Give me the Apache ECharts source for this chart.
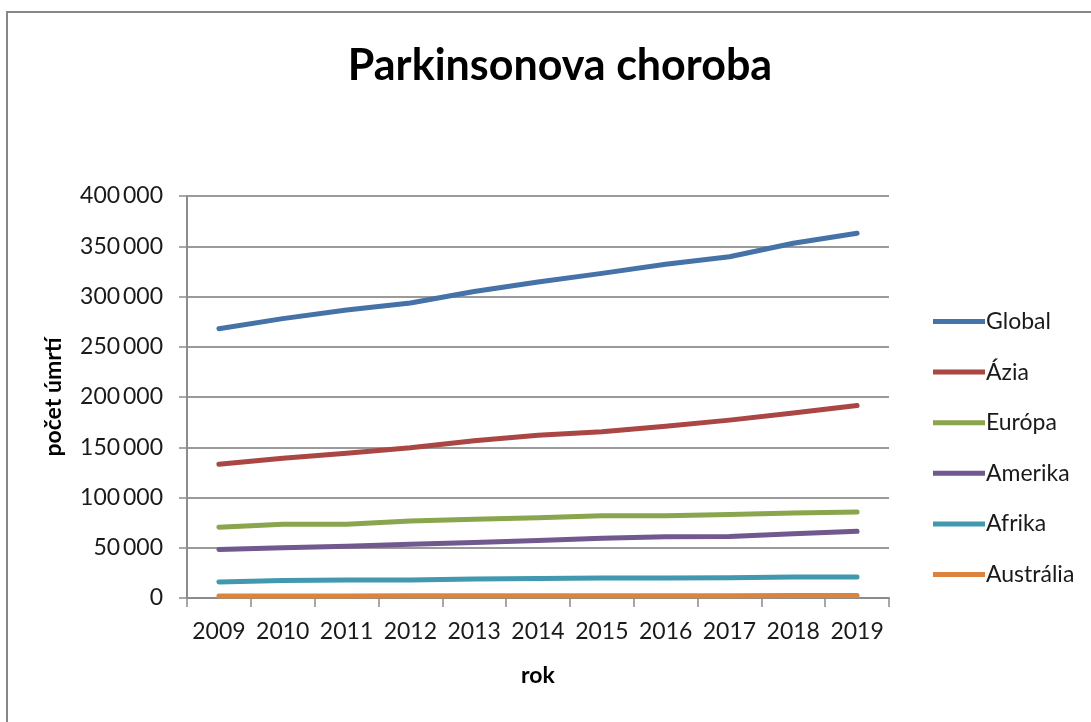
<!DOCTYPE html>
<html>
<head>
<meta charset="utf-8">
<script src="https://cdn.jsdelivr.net/npm/echarts@6/dist/echarts.min.js"></script>
<style>
html,body{margin:0;padding:0;background:#fff;}
#chart{width:1091px;height:722px;}
</style>
</head>
<body>
<div id="chart"></div>
<script>
const years = ['2009','2010','2011','2012','2013','2014','2015','2016','2017','2018','2019'];
const seriesNames = ['Global','Ázia','Európa','Amerika','Afrika','Austrália'];
const globalVals   = [268000,278000,286500,293500,305000,314500,323000,332000,339500,353000,363000];
const aziaVals     = [133000,139000,144000,149500,156500,162000,165500,171000,177000,184000,191500];
const europaVals   = [70500,73300,73300,76500,78300,79800,81800,81800,83200,84600,85600];
const amerikaVals  = [48300,50000,51600,53600,55300,57300,59500,61000,61200,64000,66300];
const afrikaVals   = [15900,17500,17800,18000,18800,19400,19800,20000,20100,20900,21000];
const australiaVals= [2000,2100,2100,2200,2200,2200,2300,2300,2300,2400,2400];
const yTicks = {min:0, max:400000, interval:50000};
const colors = ['#4572A7','#AA4643','#89A54E','#71588F','#4198AF','#DB843D'];

const allVals = [globalVals, aziaVals, europaVals, amerikaVals, afrikaVals, australiaVals];
const FONT = 'Lato, "Open Sans", sans-serif';

function fmt(v){
  return String(v).replace(/\B(?=(\d{3})+(?!\d))/g, '\u2009');
}

const chart = echarts.init(document.getElementById('chart'), null, {renderer:'canvas'});
chart.setOption({
  backgroundColor:'#fff',
  animation:false,
  color: colors,
  graphic:[{
    type:'rect', silent:true, z:-10,
    shape:{x:7, y:12, width:1300, height:1000},
    style:{fill:'none', stroke:'#878787', lineWidth:2}
  }],
  title:{
    text:'Parkinsonova choroba',
    left:555, top:40, textAlign:'center',
    textStyle:{fontFamily:FONT, fontSize:43, fontWeight:'bold', color:'#000'}
  },
  legend:{
    orient:'vertical',
    left:928, top:305,
    itemWidth:52, itemHeight:24, itemGap:27.6,
    icon:'path://M0,0 L52,0 L52,5 L0,5 Z',
    textStyle:{fontFamily:FONT, fontSize:23, color:'#1a1a1a', padding:[0,0,0,-4]},
    data: seriesNames
  },
  grid:{left:187, right:202, top:196, bottom:124, containLabel:false},
  xAxis:{
    type:'category',
    data: years,
    boundaryGap:true,
    name:'rok',
    nameLocation:'middle',
    nameGap:66,
    nameTextStyle:{fontFamily:FONT, fontSize:23, fontWeight:'bold', color:'#000'},
    axisLine:{show:true, lineStyle:{color:'#8c8c8c', width:2}},
    axisTick:{show:true, interval:0, length:9, lineStyle:{color:'#8c8c8c', width:1.5}},
    axisLabel:{fontFamily:FONT, fontSize:23, color:'#1a1a1a', margin:22, interval:0}
  },
  yAxis:{
    type:'value',
    min:yTicks.min, max:yTicks.max, interval:yTicks.interval,
    name:'počet úmrtí',
    nameLocation:'middle',
    nameGap:122,
    nameTextStyle:{fontFamily:FONT, fontSize:23, fontWeight:'bold', color:'#000'},
    axisLine:{show:true, lineStyle:{color:'#8c8c8c', width:2}},
    axisTick:{show:true, length:8, lineStyle:{color:'#8c8c8c', width:1.5}},
    splitLine:{show:true, lineStyle:{color:'#9a9a9a', width:2}},
    axisLabel:{fontFamily:FONT, fontSize:23, color:'#1a1a1a', margin:24, formatter:fmt}
  },
  series: seriesNames.map((n,i)=>({
    name:n, type:'line', data: allVals[i],
    symbol:'none', showSymbol:false,
    lineStyle:{width:5, cap:'round', join:'round', color:colors[i]},
    itemStyle:{color:colors[i]}
  }))
});
</script>
</body>
</html>
